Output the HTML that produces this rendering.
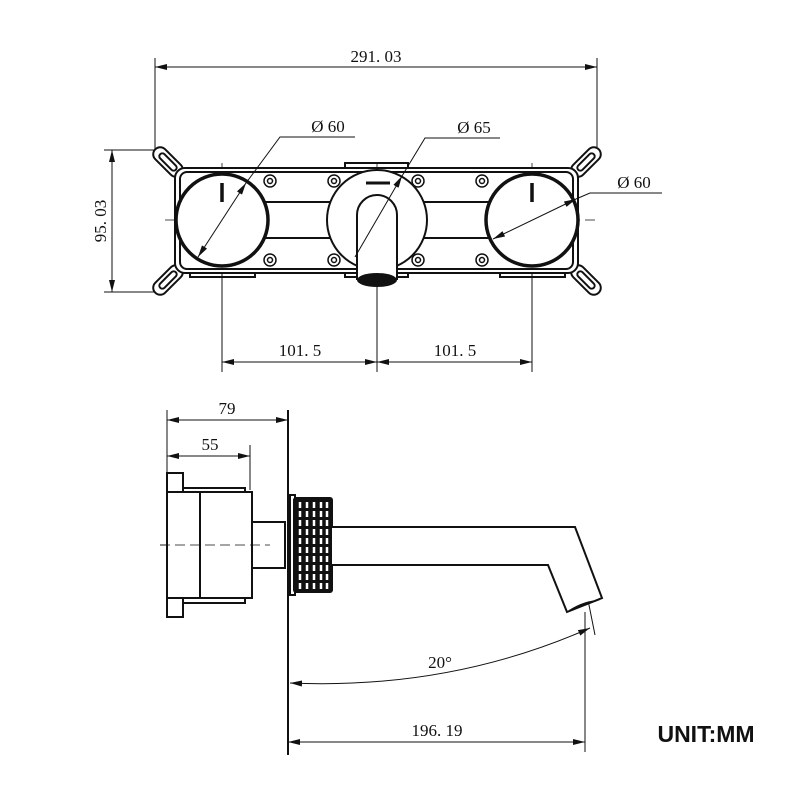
<!DOCTYPE html>
<html><head><meta charset="utf-8"><style>
html,body{margin:0;padding:0;background:#fff;}
svg{display:block}
text{font-family:"Liberation Serif",serif;fill:#111}
</style></head><body>
<svg width="800" height="800" viewBox="0 0 800 800" xmlns="http://www.w3.org/2000/svg">
<defs>
<marker id="a" markerWidth="12" markerHeight="6" refX="12" refY="3" orient="auto-start-reverse" markerUnits="userSpaceOnUse"><path d="M0,0 L12,3 L0,6z" fill="#111"/></marker>
</defs>
<g stroke="#111" fill="none" stroke-width="1">
<line x1="155" y1="58" x2="155" y2="152"/>
<line x1="597" y1="58" x2="597" y2="152"/>
<line x1="155" y1="67" x2="597" y2="67" marker-start="url(#a)" marker-end="url(#a)"/>
<line x1="104" y1="150" x2="158" y2="150"/>
<line x1="104" y1="292" x2="158" y2="292"/>
<line x1="112" y1="150" x2="112" y2="292" marker-start="url(#a)" marker-end="url(#a)"/>
<line x1="222" y1="270" x2="222" y2="372"/>
<line x1="377" y1="285" x2="377" y2="372"/>
<line x1="532" y1="270" x2="532" y2="372"/>
<line x1="222" y1="362" x2="377" y2="362" marker-start="url(#a)" marker-end="url(#a)"/>
<line x1="377" y1="362" x2="532" y2="362" marker-start="url(#a)" marker-end="url(#a)"/>
<line x1="165" y1="220" x2="595" y2="220" stroke-dasharray="10,5" stroke-width="0.8"/>
<line x1="222" y1="163" x2="222" y2="270" stroke-dasharray="10,5" stroke-width="0.8"/>
<line x1="377" y1="163" x2="377" y2="285" stroke-dasharray="10,5" stroke-width="0.8"/>
<line x1="532" y1="163" x2="532" y2="270" stroke-dasharray="10,5" stroke-width="0.8"/>
</g>
<g stroke="#111" fill="#fff" stroke-width="2">
<g transform="translate(168,162) rotate(45)"><rect x="-18" y="-7" width="36" height="14" rx="7"/><rect x="-11" y="-3" width="22" height="6" rx="3"/></g>
<g transform="translate(586,162) rotate(-45)"><rect x="-18" y="-7" width="36" height="14" rx="7"/><rect x="-11" y="-3" width="22" height="6" rx="3"/></g>
<g transform="translate(168,280) rotate(-45)"><rect x="-18" y="-7" width="36" height="14" rx="7"/><rect x="-11" y="-3" width="22" height="6" rx="3"/></g>
<g transform="translate(586,280) rotate(45)"><rect x="-18" y="-7" width="36" height="14" rx="7"/><rect x="-11" y="-3" width="22" height="6" rx="3"/></g>
</g>
<g stroke="#111" fill="none" stroke-width="2">
<rect x="345" y="163" width="63" height="8"/>
<rect x="190" y="270" width="65" height="7"/>
<rect x="500" y="270" width="65" height="7"/>
<rect x="345" y="270" width="63" height="7"/>
<rect x="175" y="168" width="403" height="105" rx="10" fill="#fff"/>
<rect x="180" y="172" width="393" height="97" rx="7"/>
<line x1="262" y1="202" x2="330" y2="202"/><line x1="262" y1="238" x2="330" y2="238"/>
<line x1="424" y1="202" x2="492" y2="202"/><line x1="424" y1="238" x2="492" y2="238"/>
<circle cx="222" cy="220" r="46" stroke-width="3.5" fill="#fff"/>
<circle cx="532" cy="220" r="46" stroke-width="3.5" fill="#fff"/>
<circle cx="377" cy="220" r="50" fill="#fff"/>
<line x1="222" y1="183" x2="222" y2="202" stroke-width="3.5"/>
<line x1="532" y1="183" x2="532" y2="202" stroke-width="3.5"/>
<line x1="366" y1="183" x2="390" y2="183" stroke-width="3"/>
<path d="M357,280 L357,215 A20,20 0 0 1 397,215 L397,280" fill="#fff"/>
<g stroke-width="1.5">
<circle cx="270" cy="181" r="6"/><circle cx="270" cy="181" r="2.5"/>
<circle cx="334" cy="181" r="6"/><circle cx="334" cy="181" r="2.5"/>
<circle cx="418" cy="181" r="6"/><circle cx="418" cy="181" r="2.5"/>
<circle cx="482" cy="181" r="6"/><circle cx="482" cy="181" r="2.5"/>
<circle cx="270" cy="260" r="6"/><circle cx="270" cy="260" r="2.5"/>
<circle cx="334" cy="260" r="6"/><circle cx="334" cy="260" r="2.5"/>
<circle cx="418" cy="260" r="6"/><circle cx="418" cy="260" r="2.5"/>
<circle cx="482" cy="260" r="6"/><circle cx="482" cy="260" r="2.5"/>
</g>
</g>
<ellipse cx="377" cy="280" rx="20" ry="7" fill="#111"/>
<g stroke="#111" fill="none" stroke-width="1">
<line x1="198" y1="257" x2="246" y2="183" marker-start="url(#a)" marker-end="url(#a)"/>
<polyline points="246,183 280,137 355,137"/>
<line x1="355" y1="257" x2="402" y2="176" marker-end="url(#a)"/>
<polyline points="402,176 425,138 500,138"/>
<line x1="493" y1="239" x2="576" y2="199" marker-start="url(#a)" marker-end="url(#a)"/>
<polyline points="576,199 590,193 662,193"/>
</g>
<g font-size="17">
<text x="376" y="62" text-anchor="middle">291. 03</text>
<text x="328" y="132" text-anchor="middle">Ø 60</text>
<text x="474" y="133" text-anchor="middle">Ø 65</text>
<text x="634" y="188" text-anchor="middle">Ø 60</text>
<text x="300" y="356" text-anchor="middle">101. 5</text>
<text x="455" y="356" text-anchor="middle">101. 5</text>
<text transform="translate(106,221) rotate(-90)" text-anchor="middle">95. 03</text>
<text x="227" y="414" text-anchor="middle">79</text>
<text x="210" y="450" text-anchor="middle">55</text>
<text x="440" y="668" text-anchor="middle">20°</text>
<text x="437" y="736" text-anchor="middle">196. 19</text>
</g>
<text x="706" y="742" text-anchor="middle" font-size="23" font-weight="bold" style="font-family:'Liberation Sans',sans-serif">UNIT:MM</text>
<g stroke="#111" fill="none" stroke-width="1">
<line x1="167" y1="410" x2="167" y2="472"/>
<line x1="250" y1="445" x2="250" y2="490"/>
<line x1="167" y1="420" x2="288" y2="420" marker-start="url(#a)" marker-end="url(#a)"/>
<line x1="167" y1="456" x2="250" y2="456" marker-start="url(#a)" marker-end="url(#a)"/>
<line x1="585" y1="612" x2="585" y2="752"/>
<line x1="288" y1="742" x2="585" y2="742" marker-start="url(#a)" marker-end="url(#a)"/>
<path d="M290,683 Q450,690 590,628" marker-start="url(#a)" marker-end="url(#a)"/>
<line x1="586" y1="590" x2="595" y2="635"/>
<line x1="160" y1="545" x2="270" y2="545" stroke-dasharray="10,5" stroke-width="0.8"/>
</g>
<g stroke="#111" fill="#fff" stroke-width="2">
<line x1="288" y1="410" x2="288" y2="755"/>
<rect x="167" y="473" width="16" height="34"/>
<rect x="167" y="583" width="16" height="34"/>
<rect x="183" y="488" width="62" height="5"/>
<rect x="183" y="598" width="62" height="5"/>
<rect x="167" y="492" width="33" height="106"/>
<rect x="200" y="492" width="52" height="106"/>
<rect x="252" y="522" width="33" height="46"/>
<rect x="290" y="495" width="5" height="100"/>
<rect x="294" y="498" width="38" height="94" fill="#111" rx="2"/>
<path d="M332,527 L575,527 L602,598 L567,612 L548,565 L332,565" fill="#fff"/>
</g>
<line x1="160" y1="545" x2="270" y2="545" stroke="#111" stroke-dasharray="10,5" stroke-width="0.8"/>
<g stroke="#fff" stroke-width="2.5" stroke-dasharray="6,3">
<line x1="300" y1="502" x2="300" y2="590"/><line x1="307" y1="502" x2="307" y2="590"/>
<line x1="314" y1="502" x2="314" y2="590"/><line x1="321" y1="502" x2="321" y2="590"/>
<line x1="327" y1="502" x2="327" y2="590"/>
</g>
<path d="M569,610 Q585,600 600,600 L567,612z" fill="#111"/>
</svg>
</body></html>
